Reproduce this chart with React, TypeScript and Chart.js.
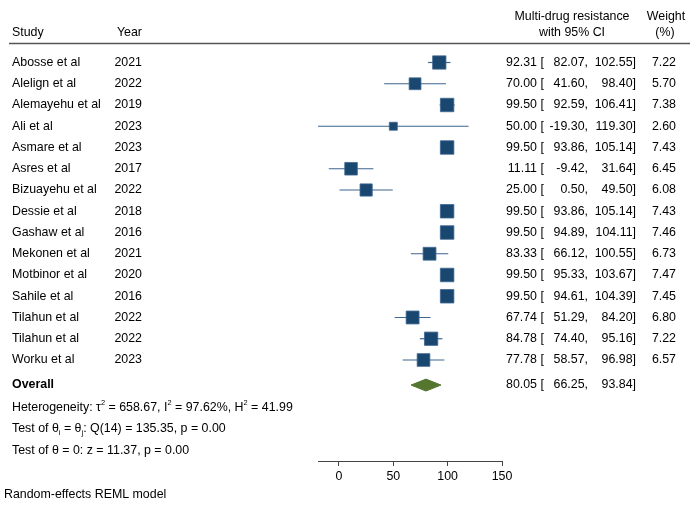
import React, { useEffect, useRef } from "react";
import { Chart, registerables } from "chart.js";

Chart.register(...registerables);

const STUDIES = [
  "Abosse et al", "Alelign et al", "Alemayehu et al", "Ali et al", "Asmare et al",
  "Asres et al", "Bizuayehu et al", "Dessie et al", "Gashaw et al", "Mekonen et al",
  "Motbinor et al", "Sahile et al", "Tilahun et al", "Tilahun et al", "Worku et al",
];
const YEARS = [2021, 2022, 2019, 2023, 2023, 2017, 2022, 2018, 2016, 2021, 2020, 2016, 2022, 2022, 2023];
const ESTIMATES = [92.31, 70.0, 99.5, 50.0, 99.5, 11.11, 25.0, 99.5, 99.5, 83.33, 99.5, 99.5, 67.74, 84.78, 77.78];
const LOWER = [82.07, 41.6, 92.59, -19.3, 93.86, -9.42, 0.5, 93.86, 94.89, 66.12, 95.33, 94.61, 51.29, 74.4, 58.57];
const UPPER = [102.55, 98.4, 106.41, 119.3, 105.14, 31.64, 49.5, 105.14, 104.11, 100.55, 103.67, 104.39, 84.2, 95.16, 96.98];
const WEIGHTS = [7.22, 5.7, 7.38, 2.6, 7.43, 6.45, 6.08, 7.43, 7.46, 6.73, 7.47, 7.45, 6.8, 7.22, 6.57];

const OVERALL_EST = 80.05;
const OVERALL_LO = 66.25;
const OVERALL_HI = 93.84;

const TAU2 = "658.67";
const I2 = "97.62";
const H2 = "41.99";
const Q_DF = 14;
const Q_STAT = "135.35";
const Q_P = "0.00";
const Z_STAT = "11.37";
const Z_P = "0.00";

const AXIS_TICKS = [0, 50, 100, 150];
const X_MIN = -19.3;
const X_MAX = 150;

// layout (row units on the y scale)
const ROW_OVERALL = 15.18;
const ROW_HET = 16.26;
const ROW_TEST1 = 17.25;
const ROW_TEST2 = 18.24;

const FONT = "'Liberation Sans', Arial, Helvetica, sans-serif";
const FS = 12.4;
const SQUARE = "#1a476f";
const CI_LINE = "#3d6690";
const DIAMOND = "#55762e";

type Run = { t: string; sup?: boolean; sub?: boolean };

function drawRuns(ctx: CanvasRenderingContext2D, x: number, y: number, runs: Run[]) {
  let cx = x;
  for (const r of runs) {
    if (r.sup || r.sub) {
      ctx.font = `${FS * 0.6}px ${FONT}`;
      const dy = r.sup ? -5.5 : 4;
      ctx.fillText(r.t, cx, y + dy);
      cx += ctx.measureText(r.t).width;
    } else {
      ctx.font = `${FS}px ${FONT}`;
      ctx.fillText(r.t, cx, y);
      cx += ctx.measureText(r.t).width;
    }
  }
  ctx.font = `${FS}px ${FONT}`;
}

const textPlugin = {
  id: "forestText",
  afterDraw(chart: any) {
    const ctx: CanvasRenderingContext2D = chart.ctx;
    const ys = chart.scales.y;
    ctx.save();
    ctx.fillStyle = "#000";
    ctx.textBaseline = "middle";
    ctx.font = `${FS}px ${FONT}`;

    // header
    ctx.textAlign = "left";
    ctx.fillText("Study", 12, 33);
    ctx.textAlign = "right";
    ctx.fillText("Year", 142, 33);
    ctx.textAlign = "center";
    ctx.fillText("Multi-drug resistance", 572, 17);
    ctx.fillText("with 95% CI", 572, 33);
    ctx.fillText("Weight", 666, 17);
    ctx.fillText("(%)", 665, 33);

    ctx.strokeStyle = "#555";
    ctx.lineWidth = 1.3;
    ctx.beginPath();
    ctx.moveTo(9, 43.5);
    ctx.lineTo(690, 43.5);
    ctx.stroke();

    const rowText = (py: number, est: number, lo: number, hi: number) => {
      ctx.textAlign = "right";
      ctx.fillText(est.toFixed(2), 537, py);
      ctx.textAlign = "left";
      ctx.fillText("[", 540.5, py);
      ctx.textAlign = "right";
      ctx.fillText(lo.toFixed(2) + ",", 588, py);
      ctx.fillText(hi.toFixed(2) + "]", 636, py);
    };

    STUDIES.forEach((s, i) => {
      const py = ys.getPixelForValue(i);
      ctx.textAlign = "left";
      ctx.fillText(s, 12, py);
      ctx.textAlign = "right";
      ctx.fillText(String(YEARS[i]), 142, py);
      rowText(py, ESTIMATES[i], LOWER[i], UPPER[i]);
      ctx.textAlign = "right";
      ctx.fillText(WEIGHTS[i].toFixed(2), 676, py);
    });

    const po = ys.getPixelForValue(ROW_OVERALL);
    ctx.font = `bold ${FS}px ${FONT}`;
    ctx.textAlign = "left";
    ctx.fillText("Overall", 12, po);
    ctx.font = `${FS}px ${FONT}`;
    rowText(po, OVERALL_EST, OVERALL_LO, OVERALL_HI);

    ctx.textAlign = "left";
    drawRuns(ctx, 12, ys.getPixelForValue(ROW_HET), [
      { t: "Heterogeneity: \u03c4" }, { t: "2", sup: true }, { t: ` = ${TAU2}, I` },
      { t: "2", sup: true }, { t: ` = ${I2}%, H` }, { t: "2", sup: true }, { t: ` = ${H2}` },
    ]);
    drawRuns(ctx, 12, ys.getPixelForValue(ROW_TEST1), [
      { t: "Test of \u03b8" }, { t: "i", sub: true }, { t: " = \u03b8" }, { t: "j", sub: true },
      { t: `: Q(${Q_DF}) = ${Q_STAT}, p = ${Q_P}` },
    ]);
    drawRuns(ctx, 12, ys.getPixelForValue(ROW_TEST2), [
      { t: `Test of \u03b8 = 0: z = ${Z_STAT}, p = ${Z_P}` },
    ]);

    ctx.textAlign = "left";
    ctx.fillText("Random-effects REML model", 4, 495);
    ctx.restore();
  },
};

export default function App() {
  const ref = useRef<HTMLCanvasElement | null>(null);

  useEffect(() => {
    if (!ref.current) return;
    const side = (w: number) => 4.95 * Math.sqrt(w);

    const ciSets = STUDIES.map((_, i) => ({
      type: "scatter" as const,
      data: [
        { x: LOWER[i], y: i },
        { x: UPPER[i], y: i },
      ],
      showLine: true,
      borderColor: CI_LINE,
      borderWidth: 1.2,
      pointRadius: 0,
      fill: false,
    }));

    const h = 0.28;
    const diamond = {
      type: "scatter" as const,
      data: [
        { x: OVERALL_LO, y: ROW_OVERALL },
        { x: OVERALL_EST, y: ROW_OVERALL - h },
        { x: OVERALL_HI, y: ROW_OVERALL },
        { x: OVERALL_EST, y: ROW_OVERALL + h },
        { x: OVERALL_LO, y: ROW_OVERALL },
      ],
      showLine: true,
      borderColor: DIAMOND,
      backgroundColor: DIAMOND,
      borderWidth: 1,
      pointRadius: 0,
      fill: "shape",
      tension: 0,
    };

    const squares = {
      type: "scatter" as const,
      data: ESTIMATES.map((e, i) => ({ x: e, y: i })),
      pointStyle: "rect",
      pointRadius: WEIGHTS.map((w) => side(w) / Math.SQRT2),
      backgroundColor: SQUARE,
      borderColor: "#3e6790",
      borderWidth: 0.8,
    };

    const chart = new Chart(ref.current, {
      type: "scatter",
      data: { datasets: [squares, diamond, ...ciSets] as any },
      plugins: [textPlugin],
      options: {
        animation: false,
        responsive: false,
        devicePixelRatio: 1,
        layout: { padding: { left: 318, right: 198, top: 50, bottom: 0 } },
        plugins: { legend: { display: false }, tooltip: { enabled: false } },
        elements: { point: { hoverRadius: 0 } },
        scales: {
          x: {
            type: "linear",
            min: X_MIN,
            max: X_MAX,
            afterBuildTicks: (s: any) => {
              s.ticks = AXIS_TICKS.map((v) => ({ value: v }));
            },
            afterFit: (s: any) => {
              s.height = 45;
            },
            border: { display: true, color: "#444", width: 1 },
            grid: { display: true, drawOnChartArea: false, drawTicks: true, tickLength: 5, color: "#444" },
            ticks: { color: "#000", font: { family: FONT, size: FS }, padding: 3, maxRotation: 0 },
          },
          y: {
            type: "linear",
            display: false,
            reverse: true,
            min: -0.588,
            max: 18.753,
          },
        },
      } as any,
    });
    return () => chart.destroy();
  }, []);

  return (
    <div style={{ position: "absolute", left: 0, top: 0, width: 700, height: 506, background: "#fff" }}>
      <canvas ref={ref} width={700} height={506} style={{ width: 700, height: 506 }} />
    </div>
  );
}
